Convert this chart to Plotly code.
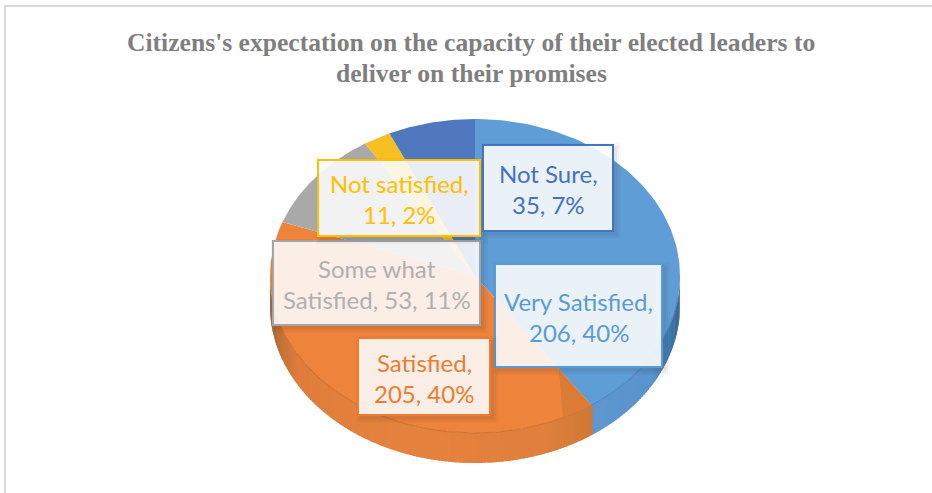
import numpy as np
import plotly.graph_objects as go

# --- data ---
categories = ["Very Satisfied", "Satisfied", "Some what Satisfied", "Not satisfied", "Not Sure"]
counts = [206, 205, 53, 11, 35]
percents = ["40%", "40%", "11%", "2%", "7%"]
label_lines = [
    ["Very Satisfied,", "206, 40%"],
    ["Satisfied,", "205, 40%"],
    ["Some what", "Satisfied, 53, 11%"],
    ["Not satisfied,", "11, 2%"],
    ["Not Sure,", "35, 7%"],
]
title_lines = ["Citizens's expectation on the capacity of their elected leaders to",
               "deliver on their promises"]

# --- style / layout ---
colors = ["#5b9bd5", "#ed7d31", "#a5a5a5", "#ffc000", "#4472c4"]
tops = ["#5f9dd6", "#ee833c", "#a9a9a9", "#f8bf22", "#4f78bf"]
text_colors = ["#5b9bd5", "#ed7d31", "#b0b0b0", "#ffc000", "#4472c4"]
CX, CY, A, B, DEPTH = 475, 276, 205, 157, 30
boxes = [(495, 264, 662, 367), (358, 338, 490, 415), (273, 241, 480, 325), (318, 160, 480, 236), (483, 145, 613, 231)]
FONT = "Lato"
FS = 24

fig = go.Figure()
total = sum(counts)
edges = np.concatenate([[0], np.cumsum(counts)]) / total * 2 * np.pi


def px(t, r=1.0):
    return CX + r * A * np.sin(t)


def py(t, r=1.0):
    return CY - r * B * np.cos(t)


def add_poly(xs, ys, color, **kw):
    fig.add_trace(go.Scatter(x=xs, y=ys, mode="lines", fill="toself", fillcolor=color,
                             line=dict(width=0, color=color), hoverinfo=kw.pop("hoverinfo", "skip"),
                             showlegend=False, **kw))


def side_shade(deg):
    # hand-picked wall shading stops (deg clockwise from the top of the pie)
    stops = [(90, "#5b93cc"), (97, "#2f5a85"), (108, "#3f78ad"), (120, "#5a93cd"), (145, "#5f97d0"),
             (145.01, "#cf7835"), (160, "#e0803c"), (200, "#e6833f"), (240, "#e07c3a"), (258, "#b06a38"), (270, "#7a4a2a")]
    ds = [s[0] for s in stops]
    rgb = np.array([[int(s[1][k:k + 2], 16) for k in (1, 3, 5)] for s in stops])
    return "rgb(%d,%d,%d)" % tuple(np.interp(deg, ds, rgb[:, c]) for c in range(3))


# side wall (front half only), split into short runs so the shade can drift
for d0 in np.arange(90, 270, 1.0):
    t = np.radians(np.linspace(d0, d0 + 1.6, 5))
    add_poly(np.concatenate([px(t), px(t[::-1])]),
             np.concatenate([py(t), py(t[::-1]) + DEPTH]), side_shade(d0 + 0.5))

# top face wedges
for i in range(len(counts)):
    t = np.linspace(edges[i], edges[i + 1], 120)
    add_poly(np.concatenate([[CX], px(t), [CX]]), np.concatenate([[CY], py(t), [CY]]), tops[i],
             name=categories[i], text=f"{categories[i]}, {counts[i]}, {percents[i]}", hoverinfo="text")

# soft rim line where the top face meets the wall
t = np.linspace(edges[1], np.radians(262), 100)
fig.add_trace(go.Scatter(x=px(t), y=py(t), mode="lines", line=dict(color="#cf7433", width=1.2),
                         hoverinfo="skip", showlegend=False))
t = np.linspace(np.radians(98), edges[1], 50)
fig.add_trace(go.Scatter(x=px(t), y=py(t), mode="lines", line=dict(color="#5489c0", width=1.2),
                         hoverinfo="skip", showlegend=False))
# darker strip along the orange edge of the blue/orange split
t0 = edges[1]
add_poly([px(t0), px(t0 + 0.16), px(t0, 0.72), px(t0)], [py(t0), py(t0 + 0.16), py(t0, 0.72), py(t0)], "#dc7b36")

shapes = [
    dict(type="line", x0=5, x1=5, y0=5, y1=493, line=dict(color="#d9d9d9", width=2), layer="below"),
    dict(type="line", x0=5, x1=932, y0=6, y1=6, line=dict(color="#d9d9d9", width=2), layer="below"),
]
annotations = [
    dict(x=471, y=y, text=f"<b>{s}</b>", showarrow=False, xanchor="center", yanchor="middle",
         font=dict(family="Liberation Serif", size=25.6, color="#7f7f7f"))
    for s, y in zip(title_lines, [42, 73])
]
for i, (x0, y0, x1, y1) in enumerate(boxes):
    for grow, alpha in [(5, 0.03), (3, 0.04), (1, 0.05)]:
        shapes.append(dict(type="rect", x0=x0 + 3 - grow, x1=x1 + 3 + grow, y0=y0 + 3 - grow, y1=y1 + 3 + grow,
                           line=dict(width=0), fillcolor=f"rgba(30,30,30,{alpha})", layer="above"))
    shapes.append(dict(type="rect", x0=x0, x1=x1, y0=y0, y1=y1, fillcolor="rgba(255,255,255,0.88)",
                       line=dict(color=colors[i], width=2), layer="above"))
    cx, cy = (x0 + x1) / 2, (y0 + y1) / 2 + 1
    for line_text, dy in zip(label_lines[i], [-15.5, 15.5]):
        annotations.append(dict(x=cx, y=cy + dy, text=line_text, showarrow=False, xanchor="center",
                                yanchor="middle", font=dict(family=FONT, size=FS, color=text_colors[i])))

fig.update_layout(
    width=932, height=493, margin=dict(l=0, r=0, t=0, b=0), showlegend=False,
    paper_bgcolor="white", plot_bgcolor="white", shapes=shapes, annotations=annotations,
    xaxis=dict(range=[0, 932], visible=False, fixedrange=True),
    yaxis=dict(range=[493, 0], visible=False, fixedrange=True),
)
fig.write_html("out.html", config=dict(displayModeBar=False),
               post_script="document.body.style.margin='0';document.documentElement.style.overflow='hidden';")
